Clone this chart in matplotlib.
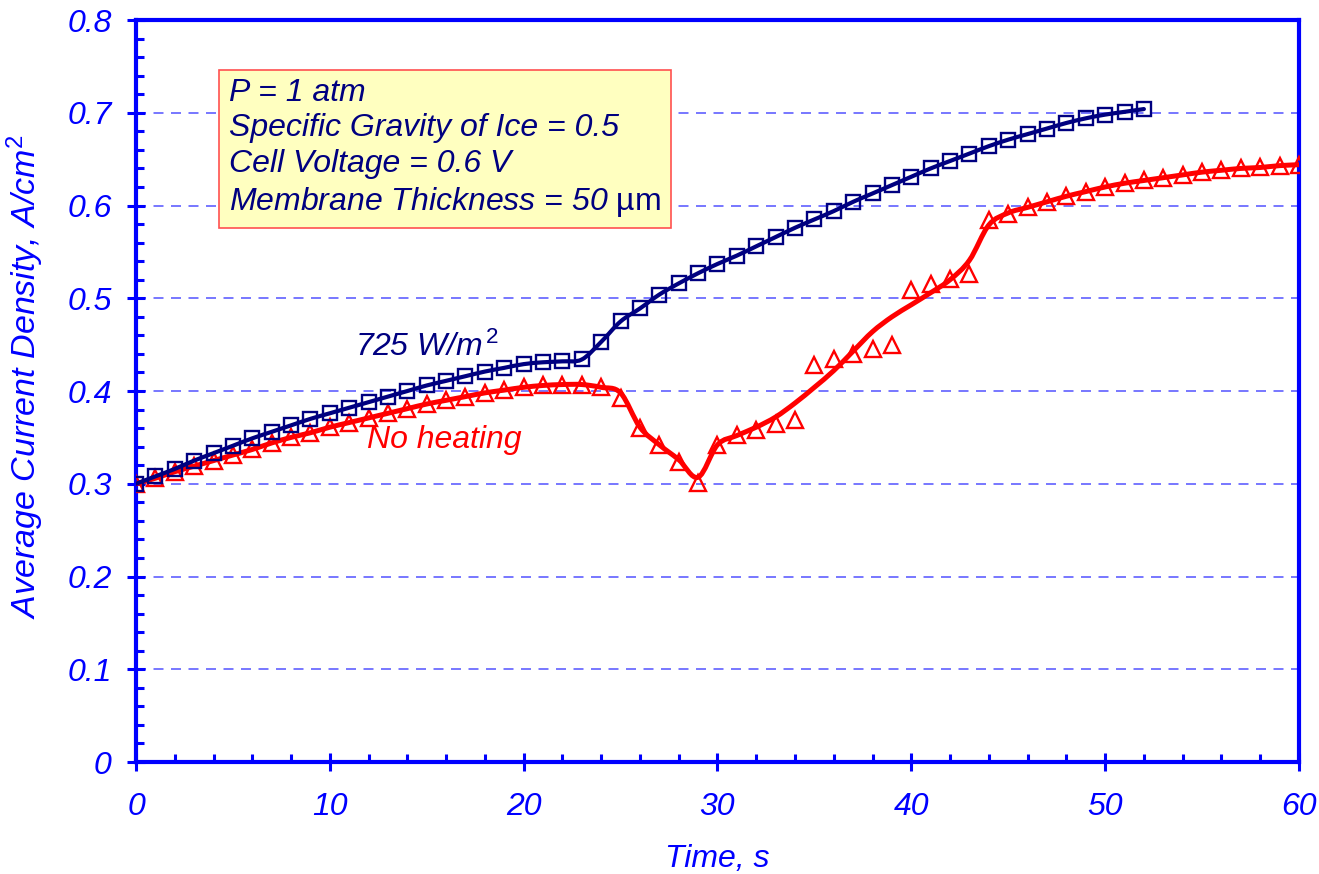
import numpy as np
import matplotlib
matplotlib.use("Agg")
import matplotlib.pyplot as plt
from matplotlib.ticker import MultipleLocator
from matplotlib.path import Path
from matplotlib.patches import PathPatch

plt.rcParams["font.family"] = ["Liberation Sans", "DejaVu Sans"]
plt.rcParams["mathtext.fontset"] = "custom"
plt.rcParams["mathtext.rm"] = "Liberation Sans"
plt.rcParams["mathtext.it"] = "Liberation Sans:italic"
plt.rcParams["mathtext.default"] = "it"

# heated case, 725 W/m2 (one point per second)
t_heat = list(range(0, 53))
j_heat = [0.300, 0.308, 0.316, 0.325, 0.333, 0.341, 0.349, 0.356, 0.363, 0.370,
          0.376, 0.382, 0.388, 0.394, 0.400, 0.406, 0.411, 0.416, 0.421, 0.425,
          0.429, 0.431, 0.432, 0.434, 0.453, 0.475, 0.489, 0.504, 0.516, 0.527,
          0.537, 0.546, 0.556, 0.566, 0.576, 0.585, 0.594, 0.604, 0.613, 0.622,
          0.631, 0.640, 0.648, 0.656, 0.664, 0.671, 0.677, 0.683, 0.689, 0.694,
          0.698, 0.701, 0.704]

# no heating, markers
t_cold = list(range(0, 61))
j_cold = [0.300, 0.306, 0.313, 0.319, 0.325, 0.331, 0.337, 0.344, 0.350, 0.355,
          0.361, 0.366, 0.371, 0.376, 0.381, 0.386, 0.390, 0.394, 0.398, 0.401,
          0.404, 0.406, 0.407, 0.407, 0.404, 0.393, 0.360, 0.342, 0.323, 0.301,
          0.342, 0.353, 0.358, 0.364, 0.369, 0.428, 0.434, 0.440, 0.445, 0.450,
          0.509, 0.515, 0.521, 0.526, 0.584, 0.591, 0.598, 0.604, 0.610, 0.615,
          0.620, 0.624, 0.627, 0.630, 0.633, 0.636, 0.638, 0.640, 0.641, 0.643,
          0.644]
# no heating, fitted curve
j_cold_fit = [0.300, 0.306, 0.313, 0.319, 0.325, 0.331, 0.337, 0.344, 0.350, 0.355,
              0.361, 0.366, 0.371, 0.376, 0.381, 0.386, 0.390, 0.394, 0.398, 0.401,
              0.404, 0.406, 0.407, 0.407, 0.404, 0.398, 0.361, 0.342, 0.326, 0.307,
              0.342, 0.352, 0.361, 0.372, 0.387, 0.404, 0.422, 0.443, 0.464, 0.480,
              0.493, 0.506, 0.520, 0.541, 0.579, 0.592, 0.598, 0.604, 0.610, 0.615,
              0.620, 0.624, 0.627, 0.630, 0.633, 0.636, 0.638, 0.640, 0.641, 0.643,
              0.644]

blue = "#0000FF"
navy = "#000080"
red = "#FF0000"


def smooth_line(ax, x, y, **kw):
    # excel style smoothed line: bezier segments through the points
    x = np.asarray(x, float)
    y = np.asarray(y, float)
    n = len(x)
    verts = [(x[0], y[0])]
    codes = [Path.MOVETO]
    for i in range(n - 1):
        a = max(i - 1, 0)
        b = min(i + 2, n - 1)
        c1 = (x[i] + (x[i + 1] - x[a]) / 6, y[i] + (y[i + 1] - y[a]) / 6)
        c2 = (x[i + 1] - (x[b] - x[i]) / 6, y[i + 1] - (y[b] - y[i]) / 6)
        verts += [c1, c2, (x[i + 1], y[i + 1])]
        codes += [Path.CURVE4] * 3
    p = PathPatch(Path(verts, codes), fill=False, capstyle="round",
                  joinstyle="round", **kw)
    ax.add_patch(p)


fig = plt.figure(figsize=(13.19, 8.74), dpi=100)
ax = fig.add_axes([0.1031, 0.1281, 0.8817, 0.849])

smooth_line(ax, t_cold, j_cold_fit, ec=red, lw=3.6, zorder=3)
ax.plot(t_cold, j_cold, ls="none", marker="^", ms=11, mfc="none", mec=red, mew=1.7, zorder=4)
smooth_line(ax, t_heat, j_heat, ec=navy, lw=3.0, zorder=5)
ax.plot(t_heat, j_heat, ls="none", marker="s", ms=10.5, mfc="none", mec=navy,
        mew=1.7, zorder=5)

ax.set_xlim(0, 60)
ax.set_ylim(0, 0.8)
ax.xaxis.set_minor_locator(MultipleLocator(2))
ax.yaxis.set_minor_locator(MultipleLocator(0.02))
ax.set_xticks([0, 10, 20, 30, 40, 50, 60])
ax.set_xticklabels(["0", "10", "20", "30", "40", "50", "60"])
ax.set_yticks([0, 0.1, 0.2, 0.3, 0.4, 0.5, 0.6, 0.7, 0.8])
ax.set_yticklabels(["0", "0.1", "0.2", "0.3", "0.4", "0.5", "0.6", "0.7", "0.8"])

for s in ax.spines.values():
    s.set_color(blue)
    s.set_linewidth(3)
ax.tick_params(which="major", direction="inout", length=13, width=2.2, color=blue,
               labelcolor=blue, labelsize=23)
ax.tick_params(axis="x", which="major", pad=15)
ax.tick_params(axis="y", which="major", pad=11)
ax.tick_params(which="minor", direction="in", length=6, width=2.2, color=blue)
ax.tick_params(top=False, right=False, which="both")
for lab in ax.get_xticklabels() + ax.get_yticklabels():
    lab.set_style("italic")

for yv in [0.1, 0.2, 0.3, 0.4, 0.5, 0.6, 0.7]:
    ax.axhline(yv, color="#6060FF", lw=1.2, ls=(0, (6, 4.5)), zorder=1)

ax.set_xlabel("Time, s", color=blue, fontsize=23, style="italic", labelpad=16)
ax.set_ylabel("Average Current Density, A/cm$^2$", color=blue, fontsize=24.5,
              style="italic")
ax.yaxis.set_label_coords(-0.077, 0.52)

ax.text(4.8, 0.738,
        "P = 1 atm\nSpecific Gravity of Ice = 0.5\nCell Voltage = 0.6 V\n"
        "Membrane Thickness = 50 $\\mathrm{µm}$",
        color=navy, fontsize=23, style="italic", va="top", ha="left",
        linespacing=1.24, zorder=6,
        bbox=dict(boxstyle="square,pad=0.3", fc="#FFFFC0", ec="#FF5050", lw=1.2))

ax.text(11.3, 0.447, "725 W/m$^{\\,2}$", color=navy, fontsize=23, style="italic",
        va="center", ha="left")
ax.text(11.9, 0.347, "No heating", color=red, fontsize=23, style="italic",
        va="center", ha="left")

fig.savefig("out.png", dpi=100)
